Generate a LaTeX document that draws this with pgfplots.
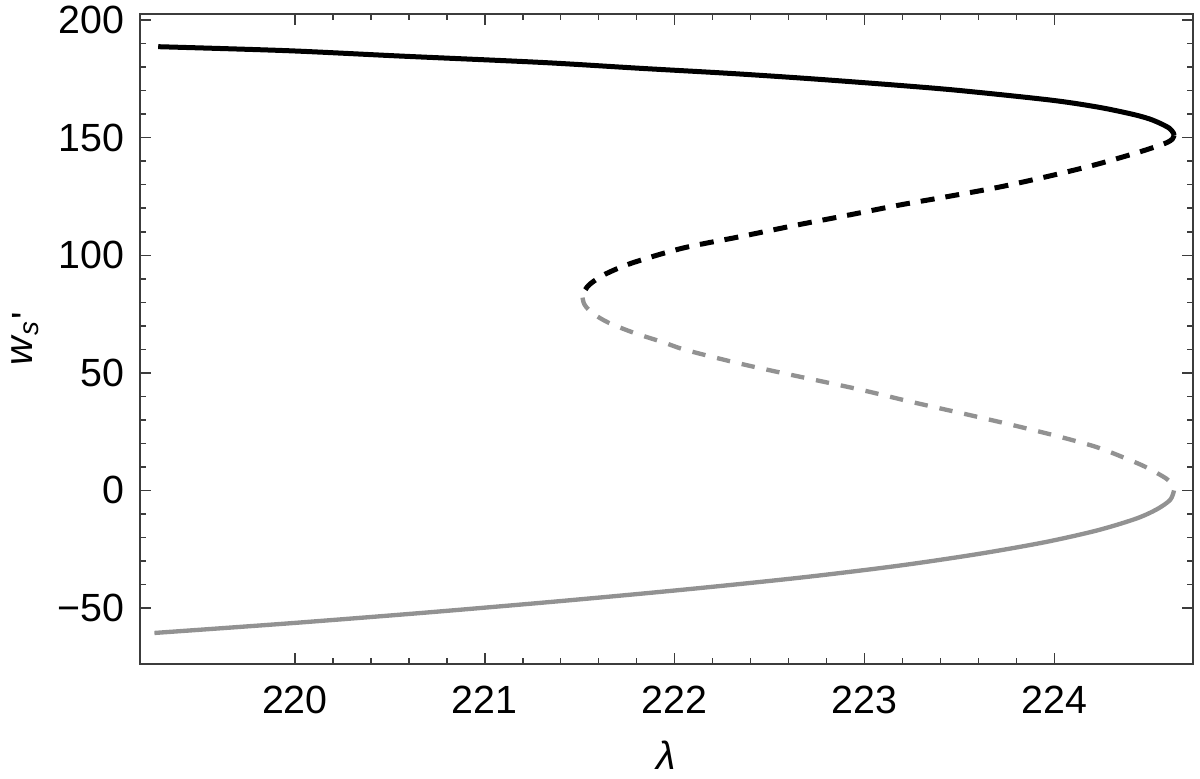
\documentclass[border=0pt]{standalone}
\usepackage{pgfplots}
\pgfplotsset{compat=1.18}
\usepackage{fontspec}
\setmainfont{Liberation Sans}
\definecolor{lgray}{RGB}{146,146,146}
\definecolor{axgray}{RGB}{60,60,60}
\begin{document}
\fontsize{11.8}{14}\selectfont
\begin{tikzpicture}
\path[use as bounding box] (-42pt,-34.5pt) rectangle (318pt,199.2pt);
\begin{axis}[
  at={(0,0)}, anchor=south west,
  width=315.9pt, height=195pt, scale only axis,
  xmin=219.184, xmax=224.73, ymin=-73.8, ymax=202.6,
  xtick={220,221,222,223,224},
  ytick={-50,0,50,100,150,200},
  yticklabels={−50,0,50,100,150,200},
  minor x tick num=4, minor y tick num=4,
  tick align=inside,
  major tick length=3.3pt, minor tick length=1.9pt,
  every tick/.style={axgray, line width=0.45pt},
  axis line style={axgray, line width=0.5pt},
  /pgf/number format/assume math mode=true,
  /pgf/number format/.cd, 1000 sep={}, /pgfplots/.cd,
  xticklabel style={yshift=-2.6pt},
  yticklabel style={xshift=-0.6pt},
  xlabel={\textit{λ}},
  ylabel={\textit{w}\textsubscript{\textit{s}}\raisebox{-0.18em}{\textquotesingle}},
  xlabel style={at={(axis description cs:0.5,0)}, anchor=north, yshift=-19pt},
  ylabel style={at={(axis description cs:0,0.5)}, anchor=south, yshift=26pt},
]
% upper stable branch (solid black)
\addplot[black, line width=1.5pt, smooth] coordinates {
(219.28,188.7) (219.96,187.0) (220.56,184.7) (221.30,182.0) (221.82,179.5)
(222.30,177.3) (222.73,175.0) (223.19,172.2) (223.51,170.0) (223.98,166.0)
(224.23,163.0) (224.41,160.0) (224.50,158.0) (224.56,156.0) (224.606,154.0)
(224.627,152.0) (224.63,151.0)
};
% upper unstable branch (dashed black)
\addplot[black, line width=1.5pt, dash pattern=on 4.2pt off 3.3pt, smooth] coordinates {
(224.63,151.0) (224.622,149.5) (224.595,148.0) (224.52,145.8) (224.41,143.0)
(224.22,138.6) (223.99,134.0) (223.71,129.0) (223.44,125.0) (223.18,121.3)
(222.91,117.0) (222.64,112.8) (222.35,108.0) (222.04,103.0) (221.775,96.7)
(221.635,92.0) (221.558,88.0) (221.526,85.0) (221.515,82.0)
};
% lower unstable branch (dashed gray)
\addplot[lgray, line width=1.3pt, dash pattern=on 4pt off 3.6pt, smooth] coordinates {
(221.515,82.0) (221.52,80.0) (221.534,78.0) (221.574,75.0) (221.655,71.2)
(221.79,66.9) (221.94,63.0) (222.06,59.7) (222.33,54.2) (222.57,49.9)
(222.97,43.0) (223.25,37.6) (223.53,32.5) (223.78,27.8) (224.02,23.0)
(224.22,18.5) (224.365,14.0) (224.48,10.0) (224.59,5.0) (224.62,2.0) (224.63,0.0)
};
% lower stable branch (solid gray)
\addplot[lgray, line width=1.3pt, smooth] coordinates {
(224.63,0.0) (224.61,-4.0) (224.54,-8.0) (224.43,-12.0) (224.225,-17.0)
(223.95,-22.0) (223.60,-27.0) (223.18,-32.0) (222.67,-37.0) (222.07,-42.0)
(221.405,-47.0) (220.68,-52.0) (219.97,-56.5) (219.26,-60.6)
};
\end{axis}
\end{tikzpicture}
\end{document}
